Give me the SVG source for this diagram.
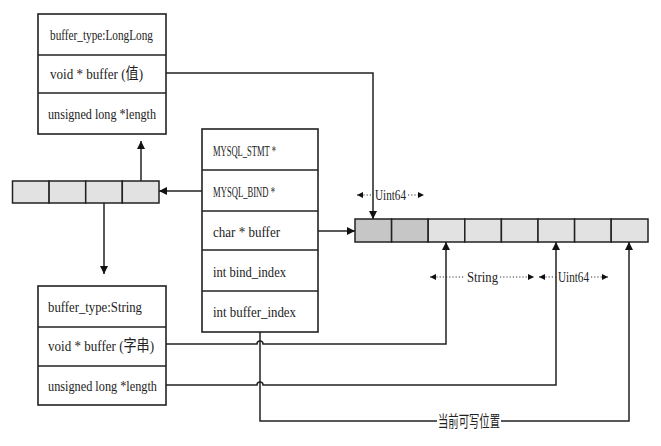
<svg xmlns="http://www.w3.org/2000/svg" width="661" height="446" viewBox="0 0 661 446">
<style>
.box{fill:#fff;stroke:#222;stroke-width:1.6}
.div{stroke:#222;stroke-width:1.6}
.cell{fill:#e2e2e2;stroke:#222;stroke-width:1.5}
.cellD{fill:#c6c6c6;stroke:#222;stroke-width:1.5}
.t{font-family:"Liberation Serif","Noto Sans CJK SC",serif;font-size:15.5px;fill:#222}
.c{fill:none;stroke:#222;stroke-width:1.5}
.dot{fill:none;stroke:#333;stroke-width:1.2;stroke-dasharray:1.2 2}
</style>
<defs>
<marker id="ah" viewBox="0 0 10 10" refX="10" refY="5" markerWidth="8" markerHeight="8" markerUnits="userSpaceOnUse" orient="auto">
<path d="M0,0 L10,5 L0,10 z" fill="#111"/>
</marker>
<marker id="sm" viewBox="0 0 10 10" refX="10" refY="5" markerWidth="6" markerHeight="7" markerUnits="userSpaceOnUse" orient="auto-start-reverse">
<path d="M0,0 L10,5 L0,10 z" fill="#111"/>
</marker>
</defs>

<g id="longlong-bind">
<rect class="box" x="38" y="14" width="128" height="120"/>
<line class="div" x1="38" y1="55" x2="166" y2="55"/>
<line class="div" x1="38" y1="93" x2="166" y2="93"/>
<text class="t" x="50" y="40" textLength="103" lengthAdjust="spacingAndGlyphs">buffer_type:LongLong</text>
<text class="t" x="50" y="79" textLength="93" lengthAdjust="spacingAndGlyphs">void * buffer (值)</text>
<text class="t" x="48" y="119" textLength="108" lengthAdjust="spacingAndGlyphs">unsigned long *length</text>
</g>

<g id="string-bind">
<rect class="box" x="38" y="286" width="128" height="119"/>
<line class="div" x1="38" y1="327" x2="166" y2="327"/>
<line class="div" x1="38" y1="366" x2="166" y2="366"/>
<text class="t" x="48" y="312" textLength="94" lengthAdjust="spacingAndGlyphs">buffer_type:String</text>
<text class="t" x="48" y="351" textLength="106" lengthAdjust="spacingAndGlyphs">void * buffer (字串)</text>
<text class="t" x="48" y="391" textLength="109" lengthAdjust="spacingAndGlyphs">unsigned long *length</text>
</g>

<g id="stmt">
<rect class="box" x="202" y="129" width="116" height="203"/>
<line class="div" x1="202" y1="170" x2="318" y2="170"/>
<line class="div" x1="202" y1="211" x2="318" y2="211"/>
<line class="div" x1="202" y1="250" x2="318" y2="250"/>
<line class="div" x1="202" y1="291" x2="318" y2="291"/>
<text class="t" x="213" y="156" textLength="63" lengthAdjust="spacingAndGlyphs">MYSQL_STMT *</text>
<text class="t" x="213" y="197" textLength="62" lengthAdjust="spacingAndGlyphs">MYSQL_BIND *</text>
<text class="t" x="213" y="237" textLength="67" lengthAdjust="spacingAndGlyphs">char * buffer</text>
<text class="t" x="213" y="277" textLength="73" lengthAdjust="spacingAndGlyphs">int bind_index</text>
<text class="t" x="213" y="317" textLength="83" lengthAdjust="spacingAndGlyphs">int buffer_index</text>
</g>

<g id="bind-array">
<rect class="cell" x="12.5" y="181" width="36.6" height="22"/>
<rect class="cell" x="49.1" y="181" width="36.6" height="22"/>
<rect class="cell" x="85.7" y="181" width="36.6" height="22"/>
<rect class="cell" x="122.3" y="181" width="36.7" height="22"/>
</g>

<g id="buffer-array">
<rect class="cellD" x="355" y="219" width="36.6" height="23"/>
<rect class="cellD" x="391.6" y="219" width="36.6" height="23"/>
<rect class="cell" x="428.2" y="219" width="36.6" height="23"/>
<rect class="cell" x="464.8" y="219" width="36.6" height="23"/>
<rect class="cell" x="501.4" y="219" width="36.6" height="23"/>
<rect class="cell" x="538" y="219" width="36.6" height="23"/>
<rect class="cell" x="574.6" y="219" width="36.6" height="23"/>
<rect class="cell" x="611.2" y="219" width="36.8" height="23"/>
</g>

<g id="labels">
<line class="dot" x1="357" y1="195" x2="373" y2="195" marker-start="url(#sm)"/>
<text class="t" x="375" y="200" textLength="31" lengthAdjust="spacingAndGlyphs">Uint64</text>
<line class="dot" x1="408" y1="195" x2="424" y2="195" marker-end="url(#sm)"/>
<line class="dot" x1="430" y1="277" x2="465" y2="277" marker-start="url(#sm)"/>
<text class="t" x="467" y="282" textLength="31" lengthAdjust="spacingAndGlyphs">String</text>
<line class="dot" x1="500" y1="277" x2="534" y2="277" marker-end="url(#sm)"/>
<line class="dot" x1="539" y1="277" x2="556" y2="277" marker-start="url(#sm)"/>
<text class="t" x="558" y="282" textLength="31" lengthAdjust="spacingAndGlyphs">Uint64</text>
<line class="dot" x1="591" y1="277" x2="608" y2="277" marker-end="url(#sm)"/>
</g>

<g id="connectors">
<line class="c" x1="202" y1="191" x2="159" y2="191" marker-end="url(#ah)"/>
<line class="c" x1="141" y1="181" x2="141" y2="141" marker-end="url(#ah)"/>
<line class="c" x1="104" y1="203" x2="104" y2="274" marker-end="url(#ah)"/>
<line class="c" x1="318" y1="231" x2="355" y2="231" marker-end="url(#ah)"/>
<path class="c" d="M166,73 H373 V219" marker-end="url(#ah)"/>
<path class="c" d="M166,344 H257 a3,3 0 0 1 6,0 H446 V242" marker-end="url(#ah)"/>
<path class="c" d="M166,385 H257 a3,3 0 0 1 6,0 H556 V242" marker-end="url(#ah)"/>
<path class="c" d="M260,332 V421 H629 V242" marker-end="url(#ah)"/>
<rect x="437" y="411" width="64" height="20" fill="#fff"/>
<text class="t" x="469" y="427" text-anchor="middle" font-size="16" textLength="62" lengthAdjust="spacingAndGlyphs">当前可写位置</text>
</g>
</svg>
